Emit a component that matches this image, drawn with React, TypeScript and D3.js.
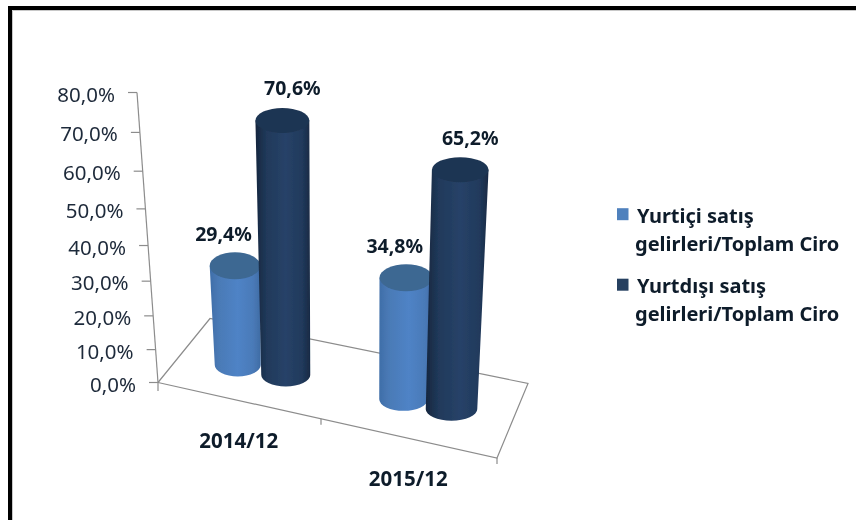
import React from "react";
import * as d3 from "d3";

const categories = ["2014/12", "2015/12"];
const seriesNames = ["Yurtiçi satış gelirleri/Toplam Ciro", "Yurtdışı satış gelirleri/Toplam Ciro"];
const legendLines = [["Yurtiçi satış", "gelirleri/Toplam Ciro"], ["Yurtdışı satış", "gelirleri/Toplam Ciro"]];
const domestic = [29.4, 34.8];
const foreign = [70.6, 65.2];
const seriesValues = [domestic, foreign];
const yTicks = [0, 10, 20, 30, 40, 50, 60, 70, 80];
const pct = (v: number) => v.toFixed(1).replace(".", ",") + "%";

const FONT = "'Noto Sans', sans-serif";
const TXT = "#1f2a3a";

// perspective value axis
const K = 0.00131;
const heightScale = d3.scaleLinear().domain([0, 1]).range([0, 3.245]);
const h = (v: number) => heightScale(v / (1 - K * v));
const axisX = (v: number) => 158 - (h(v) * 21) / 290;
const axisY = (v: number) => 382.5 - h(v);

// floor
const catBase = d3.scalePoint<string>().domain(categories).range([261.75, 427.5]);
const serOffset = d3.scalePoint<string>().domain(seriesNames).range([-24, 24]);
const catFront = d3.scaleBand<string>().domain(categories).range([158, 497]);
const floorY = (x: number) => 365 + 0.207 * (x - 238);

const gid = ["gLight", "gDark"];
const capColor = ["#3d6792", "#1f3552"];
const legendColor = ["#4f81bd", "#254061"];
const labelDx = [-11.5, 10];

function cylinder(v: number, c: string, s: number) {
  const x0 = catBase(c)! + serOffset(seriesNames[s])!;
  const y0 = floorY(x0);
  const growth = 1 + (y0 - 365) * 0.0008;
  const ht = h(v) * growth;
  const lean = (x0 - 330) * 0.0003 * ht;
  const rxB = (s === 0 ? 23 : 24.5) + categories.indexOf(c) * 1.25;
  const ryB = 11.5;
  const rxT = rxB * 1.1;
  const ryT = s === 0 ? 13.5 : 12.5;
  const xT = x0 + lean;
  const yT = y0 - ht;
  const side = `M${xT - rxT},${yT} L${x0 - rxB},${y0} A${rxB},${ryB} 0 0 0 ${x0 + rxB},${y0} L${xT + rxT},${yT} Z`;
  return { x0, y0, xT, yT, rxT, ryT, side };
}

export default function App() {
  return (
    <svg
      width={856}
      height={520}
      style={{ position: "absolute", left: 0, top: 0, background: "#fff" }}
      fontFamily={FONT}
    >
      <defs>
        <linearGradient id="gLight" x1="0" x2="1" y1="0" y2="0">
          <stop offset="0" stopColor="#3f6ea8" />
          <stop offset="0.18" stopColor="#4a7ab6" />
          <stop offset="0.55" stopColor="#4f83c6" />
          <stop offset="0.85" stopColor="#4a7ab8" />
          <stop offset="1" stopColor="#3f6ca4" />
        </linearGradient>
        <linearGradient id="gDark" x1="0" x2="1" y1="0" y2="0">
          <stop offset="0" stopColor="#16263e" />
          <stop offset="0.2" stopColor="#20395a" />
          <stop offset="0.55" stopColor="#274268" />
          <stop offset="0.85" stopColor="#213a5c" />
          <stop offset="1" stopColor="#182a44" />
        </linearGradient>
        <filter id="soft" x="-2%" y="-2%" width="104%" height="104%">
          <feGaussianBlur stdDeviation="0.45" />
        </filter>
      </defs>

      {/* frame */}
      <path d="M10,520 V8 H856" fill="none" stroke="#000" strokeWidth={4} />
      <path d="M12.5,520 V10.5 H856" fill="none" stroke="#c8c8c8" strokeWidth={1} />

      <g filter="url(#soft)">
        {/* floor */}
        <g stroke="#8c8c8c" strokeWidth={1.2} fill="none">
          <path d="M158,382.5 L497,458 L528,383.5 L210,318.5 Z" />
          <path d="M158,382.5 V391" />
          <path d={`M${catFront(categories[1])! - 6.5},${382.5 + (catFront(categories[1])! - 6.5 - 158) * 0.2227} v6`} />
          <path d="M497,458 V464" />
          <path d={`M${axisX(80)},${axisY(80)} L${axisX(0)},${axisY(0)}`} />
          {yTicks.map((t) => (
            <path key={t} d={`M${axisX(t) - 9},${axisY(t)} H${axisX(t)}`} />
          ))}
        </g>

        {yTicks.map((t) => (
          <text
            key={t}
            x={axisX(t) - 22}
            y={axisY(t) + 9}
            textAnchor="end"
            fontSize={20.5}
            fill={TXT}
          >
            {pct(t)}
          </text>
        ))}

        {/* cylinders */}
        {categories.map((c, ci) => (
          <g key={c}>
            {seriesValues.map((vals, s) => {
              const g = cylinder(vals[ci], c, s);
              return (
                <g key={s}>
                  <path d={g.side} fill={`url(#${gid[s]})`} />
                  <ellipse cx={g.xT} cy={g.yT} rx={g.rxT} ry={g.ryT} fill={capColor[s]} />
                </g>
              );
            })}
          </g>
        ))}

        {/* data labels */}
        {categories.map((c, ci) =>
          seriesValues.map((vals, s) => {
            const g = cylinder(vals[ci], c, s);
            return (
              <text
                key={c + s}
                x={g.xT + labelDx[s]}
                y={g.yT - 25}
                textAnchor="middle"
                fontSize={19.5}
                fontWeight={700}
                fill="#111c2b"
              >
                {pct(vals[ci])}
              </text>
            );
          })
        )}

        {/* category labels */}
        {categories.map((c) => {
          const x = catFront(c)! + catFront.bandwidth() / 2;
          return (
            <text
              key={c}
              x={x - 4}
              y={382.5 + (x - 158) * 0.2227 + 47}
              textAnchor="middle"
              fontSize={20.5}
              fontWeight={700}
              fill="#111c2b"
            >
              {c}
            </text>
          );
        })}

        {/* legend */}
        {legendLines.map((lines, s) => {
          const base = 222.7 + s * 70.5;
          return (
            <g key={s}>
              <rect x={617} y={base - 14.5} width={11.5} height={12} fill={legendColor[s]} />
              <text x={637} y={base} fontSize={20} fontWeight={700} fill="#111c2b">
                {lines[0]}
              </text>
              <text x={635} y={base + 28} fontSize={20} fontWeight={700} fill="#111c2b">
                {lines[1]}
              </text>
            </g>
          );
        })}
      </g>
    </svg>
  );
}
